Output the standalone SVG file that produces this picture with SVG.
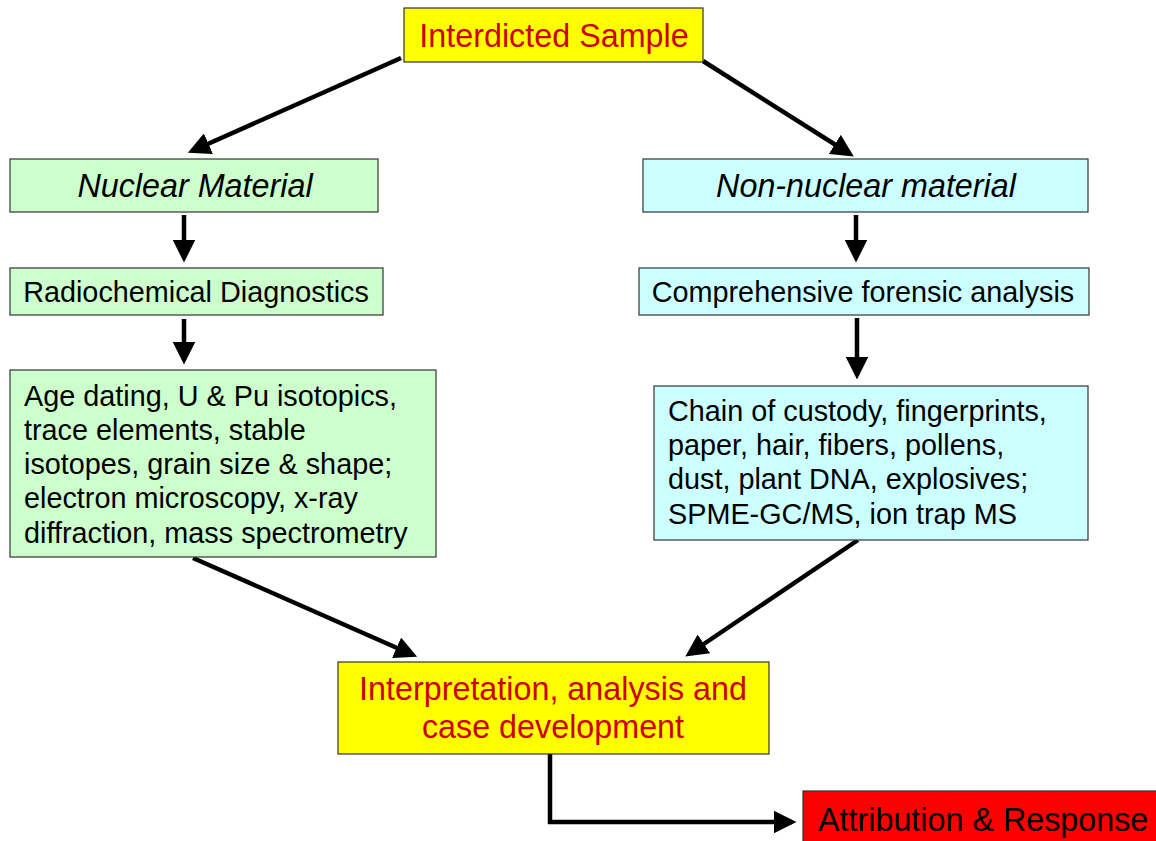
<svg xmlns="http://www.w3.org/2000/svg" width="1156" height="841" viewBox="0 0 1156 841">
<style>
.box{stroke:#333;stroke-width:1.2}
.g{fill:#ccffcc}.c{fill:#ccffff}.y{fill:#ffff00}.r{fill:#ff0000}
text{font-family:"Liberation Sans",Arial,sans-serif;fill:#000}
.red{fill:#cc0000}
.t32{font-size:32.3px}.t28{font-size:28.8px}
.it{font-style:italic}
.mid{text-anchor:middle}
.conn{stroke:#000;stroke-width:4.5;fill:none}
</style>
<defs>
<marker id="ah" markerWidth="5" markerHeight="5" refX="4" refY="2.5" orient="auto" markerUnits="strokeWidth">
<path d="M0,0 L5,2.5 L0,5 Z" fill="#000"/>
</marker>
</defs>
<rect width="1156" height="841" fill="#fff"/>
<g id="connectors">
<line class="conn" x1="401" y1="58" x2="192" y2="151" marker-end="url(#ah)"/>
<line class="conn" x1="703" y1="61" x2="850" y2="154" marker-end="url(#ah)"/>
<line class="conn" x1="184" y1="215" x2="184" y2="258" marker-end="url(#ah)"/>
<line class="conn" x1="184" y1="319" x2="184" y2="360" marker-end="url(#ah)"/>
<line class="conn" x1="856" y1="215" x2="856" y2="258" marker-end="url(#ah)"/>
<line class="conn" x1="857" y1="318" x2="857" y2="375" marker-end="url(#ah)"/>
<line class="conn" x1="193" y1="558" x2="413" y2="655" marker-end="url(#ah)"/>
<line class="conn" x1="858" y1="540" x2="689" y2="654" marker-end="url(#ah)"/>
<polyline class="conn" points="550,754 550,822 792,822" marker-end="url(#ah)"/>
</g>
<g id="interdicted">
<rect class="box y" x="404" y="8" width="299" height="54"/>
<text class="t32 red mid" x="554" y="47">Interdicted Sample</text>
</g>
<g id="nuclear">
<rect class="box g" x="10" y="159" width="368" height="53"/>
<text class="t32 it mid" x="195" y="197">Nuclear Material</text>
</g>
<g id="nonnuclear">
<rect class="box c" x="643" y="159" width="445" height="53"/>
<text class="t32 it mid" x="866" y="197">Non-nuclear material</text>
</g>
<g id="radiochem">
<rect class="box g" x="10" y="268" width="373" height="47"/>
<text class="t28 mid" x="196" y="302">Radiochemical Diagnostics</text>
</g>
<g id="comprehensive">
<rect class="box c" x="639" y="268" width="450" height="47"/>
<text class="t28 mid" x="863" y="302">Comprehensive forensic analysis</text>
</g>
<g id="agedating">
<rect class="box g" x="10" y="370" width="426" height="187"/>
<text class="t28" x="24" y="406">Age dating, U &amp; Pu isotopics,</text>
<text class="t28" x="24" y="440">trace elements, stable</text>
<text class="t28" x="24" y="474">isotopes, grain size &amp; shape;</text>
<text class="t28" x="24" y="508">electron microscopy, x-ray</text>
<text class="t28" x="24" y="543">diffraction, mass spectrometry</text>
</g>
<g id="chain">
<rect class="box c" x="654" y="386" width="434" height="154"/>
<text class="t28" x="668" y="421">Chain of custody, fingerprints,</text>
<text class="t28" x="668" y="455">paper, hair, fibers, pollens,</text>
<text class="t28" x="668" y="489">dust, plant DNA, explosives;</text>
<text class="t28" x="668" y="524">SPME-GC/MS, ion trap MS</text>
</g>
<g id="interpretation">
<rect class="box y" x="338" y="662" width="431" height="92"/>
<text class="t32 red mid" x="553" y="700">Interpretation, analysis and</text>
<text class="t32 red mid" x="553" y="738">case development</text>
</g>
<g id="attribution">
<rect class="box r" x="803" y="791" width="360" height="60"/>
<text class="t32" x="818" y="831">Attribution &amp; Response</text>
</g>
</svg>
